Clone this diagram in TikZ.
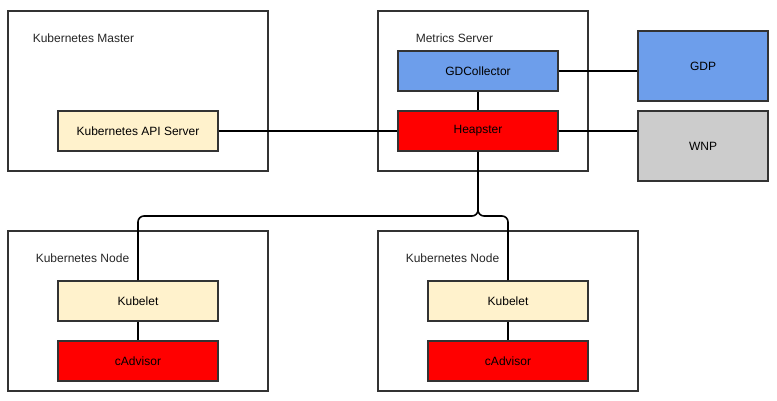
\documentclass[tikz,border=0pt]{standalone}
\usepackage{fontspec}
\setmainfont{Liberation Sans}
\usetikzlibrary{positioning}
\definecolor{edgegray}{HTML}{333333}
\definecolor{apiyellow}{HTML}{FFF2CC}
\definecolor{gdblue}{HTML}{6D9EEB}
\definecolor{wnpgray}{HTML}{CCCCCC}
\tikzset{
    infra/.style={x=1pt,y=-1pt,line width=1.6pt,node distance=18.4pt,
                     font=\fontsize{12}{14}\selectfont},
    group/.style={rectangle,draw=edgegray,fill=white,inner sep=0pt},
    comp/.style={rectangle,draw=edgegray,inner sep=0pt,
                     minimum width=160pt,minimum height=40pt},
    ext/.style={rectangle,draw=edgegray,inner sep=0pt,
                     minimum width=130pt,minimum height=70pt},
    title/.style={anchor=west,inner sep=0pt,text=black!85},
    }
\begin{document}
\begin{tikzpicture}[infra]
            \useasboundingbox (0,0) rectangle (777,401);

            % groups
            \node[group,minimum width=260pt,minimum height=160pt] (master) at (138,91) {};
            \node[group,minimum width=210pt,minimum height=160pt] (metrics) at (483,91) {};
            \node[group,minimum width=260pt,minimum height=160pt] (node1) at (138,311) {};
            \node[group,minimum width=260pt,minimum height=160pt] (node2) at (508,311) {};

            \node[title] (tmaster) at (32,38) {Kubernetes Master};
            \node[title] (tmetrics) at (415,38) {Metrics Server};
            \node[title] (tnode1) at (35,258) {Kubernetes Node};
            \node[title] (tnode2) at (405,258) {Kubernetes Node};

            % components
            \node[comp,fill=apiyellow] (api) at (138,131) {Kubernetes API Server};
            \node[comp,fill=gdblue] (gdc) at (478,71) {GDCollector};
            \node[comp,fill=red] (heap) [below=of gdc] {Heapster};
            \node[ext,fill=gdblue] (gdp) at (703,66) {GDP};
            \node[ext,fill=wnpgray] (wnp) at (703,146) {WNP};

            \node[comp,fill=apiyellow] (kl1) at (138,301) {Kubelet};
            \node[comp,fill=red] (ca1) [below=of kl1] {cAdvisor};
            \node[comp,fill=apiyellow] (kl2) at (508,301) {Kubelet};
            \node[comp,fill=red] (ca2) [below=of kl2] {cAdvisor};

            \coordinate (split) at (478,216);

            \path (api.east) edge[] (heap.west);
            \path (gdc) edge[] (heap);
            \path (gdc.east) edge[] (gdc.east -| gdp.west);
            \path (heap.east) edge[] (heap.east -| wnp.west);
            \path (kl1) edge[] (ca1);
            \path (kl2) edge[] (ca2);
            \draw[rounded corners=6pt] (heap.south) -- (split) -| (kl1.north);
            \draw[rounded corners=6pt] (heap.south) -- (split) -| (kl2.north);
        \end{tikzpicture}
\end{document}
